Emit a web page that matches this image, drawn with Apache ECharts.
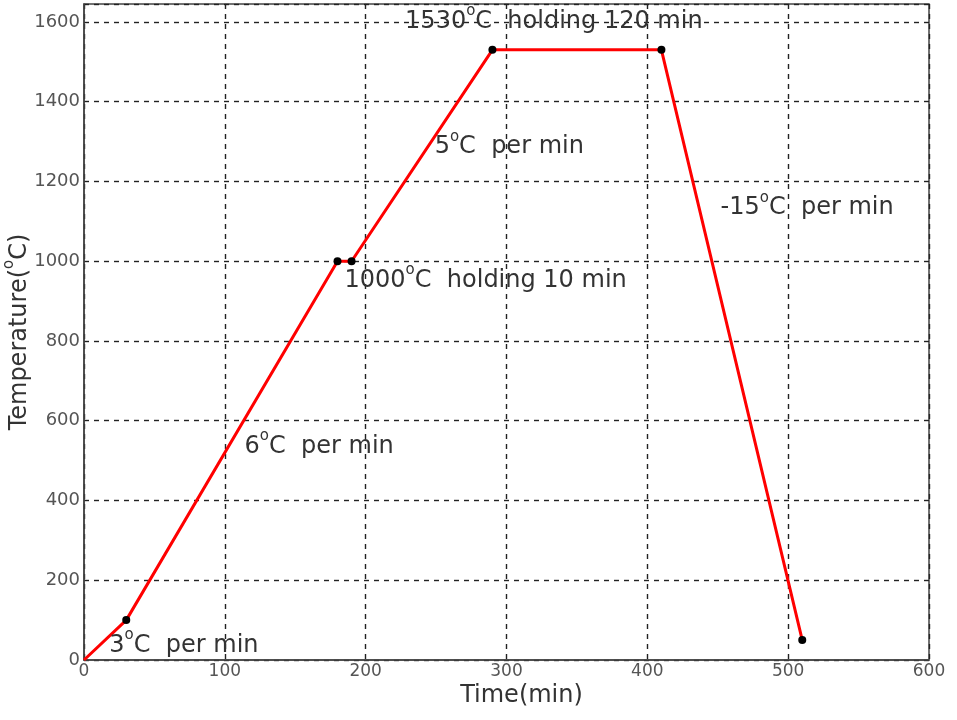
<!DOCTYPE html>
<html>
<head>
<meta charset="utf-8">
<script src="https://cdn.jsdelivr.net/npm/echarts@6/dist/echarts.min.js"></script>
<style>
html, body { margin: 0; padding: 0; background: #fff; }
#main { width: 957px; height: 720px; }
</style>
</head>
<body>
<div id="main"></div>
<script>
// heating schedule (time in min, temperature in degC)
var times = [0, 30, 180, 190, 290, 410, 510];
var temps = [0, 100, 1000, 1000, 1530, 1530, 50];

// annotation texts and where they sit (data units, left edge / middle)
var noteText = ['3{s|o}C  per min', '6{s|o}C  per min', '1000{s|o}C  holding 10 min',
                '5{s|o}C  per min', '1530{s|o}C  holding 120 min', '-15{s|o}C  per min'];
var noteX = [18, 114, 185, 249, 228, 452];
var noteY = [36, 534, 952, 1286, 1600, 1133];

var xTicks = [0, 100, 200, 300, 400, 500, 600];
var yTicks = [0, 200, 400, 600, 800, 1000, 1200, 1400, 1600];

var chart = echarts.init(document.getElementById('main'));

var pts = times.map(function (t, i) { return [t, temps[i]]; });
var notes = noteText.map(function (s, i) {
    return { coord: [noteX[i], noteY[i]], value: s };
});

var font = 'DejaVu Sans';
// raised small "o" used as the degree mark
var sup = { fontFamily: font, fontSize: 15, color: '#333', verticalAlign: 'top', lineHeight: 15 };

var option = {
    backgroundColor: '#fff',
    animation: false,
    grid: {
        left: 84, right: 28, top: 4, bottom: 60,
        outerBoundsMode: 'none',
        containLabel: false,
        show: true, borderColor: '#444', borderWidth: 1.5
    },
    xAxis: {
        type: 'value', min: 0, max: 600, interval: 100,
        name: 'Time(min)', nameLocation: 'middle', nameGap: 24,
        nameMoveOverlap: false,
        nameTextStyle: { fontFamily: font, fontSize: 24, color: '#333', padding: [0, 0, 0, 30] },
        axisLine: { show: true, onZero: false, lineStyle: { color: '#444', width: 1.5 } },
        axisTick: { show: false },
        axisLabel: { fontFamily: font, fontSize: 17, color: '#555', margin: 3,
            formatter: function (v) { return xTicks.indexOf(v) >= 0 ? String(v) : ''; } },
        splitLine: { lineStyle: { color: '#222', type: [5, 5], width: 1.4 } }
    },
    yAxis: {
        type: 'value', min: 0, max: 1645, interval: 200,
        name: 'Temperature({s|o}C)', nameLocation: 'middle', nameGap: 46,
        nameMoveOverlap: false,
        nameTextStyle: { fontFamily: font, fontSize: 24, color: '#333', lineHeight: 36, rich: { s: sup } },
        axisLine: { show: true, lineStyle: { color: '#444', width: 1.5 } },
        axisTick: { show: false },
        axisLabel: { fontFamily: font, fontSize: 18, color: '#555', margin: 4,
            formatter: function (v) { return yTicks.indexOf(v) >= 0 ? String(v) : ''; } },
        splitLine: { lineStyle: { color: '#222', type: [5, 5], width: 1.4 } }
    },
    series: [{
        type: 'line',
        data: pts,
        symbol: 'circle',
        symbolSize: function (v, p) { return p.dataIndex === 0 ? 0 : 8; },
        itemStyle: { color: '#000' },
        lineStyle: { color: '#ff0000', width: 3 },
        markPoint: {
            symbol: 'circle', symbolSize: 0,
            itemStyle: { color: 'transparent' },
            label: {
                show: true, position: 'right', distance: 0,
                fontFamily: font, fontSize: 24, color: '#333', lineHeight: 36,
                formatter: function (p) { return p.value; },
                rich: { s: sup }
            },
            data: notes
        }
    }]
};

chart.setOption(option);
</script>
</body>
</html>
